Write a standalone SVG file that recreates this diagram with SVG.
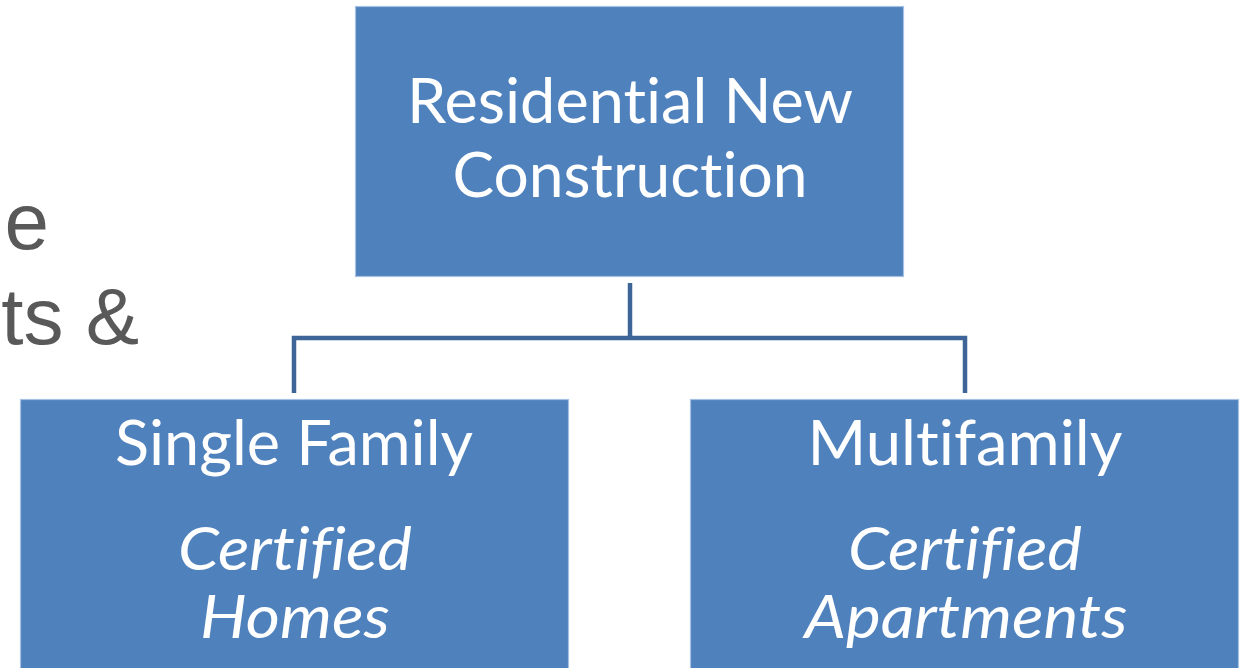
<svg xmlns="http://www.w3.org/2000/svg" width="1248" height="668" viewBox="0 0 1248 668">
<style>
.box{fill:#4F81BD;stroke:#A7C1E4;stroke-width:1.2}
.t{font-family:Lato,"Open Sans","Noto Sans",sans-serif;font-size:61px;fill:#FFFFFF;text-anchor:middle;font-variant-ligatures:none;font-feature-settings:"liga" 0,"clig" 0}
.i{font-style:italic}
.bg{font-family:"Liberation Sans",Arial,sans-serif;font-size:80px;fill:#595959;text-anchor:end}
.c{fill:none;stroke:#3D6597;stroke-width:4.5;stroke-linejoin:miter}
</style>
<rect width="1248" height="668" fill="#FFFFFF"/>
<g id="background-text">
<text class="bg" x="49" y="249">e</text>
<text class="bg" x="139" y="344">ts &amp;</text>
</g>
<g id="connectors">
<path class="c" d="M630,283 V338"/>
<path class="c" d="M294,393 V338 H965 V393"/>
</g>
<g id="node-root">
<rect class="box" x="355.5" y="6.5" width="548" height="270"/>
<text class="t" x="630" y="123" textLength="446" lengthAdjust="spacingAndGlyphs">Residential New</text>
<text class="t" x="630" y="197" textLength="355" lengthAdjust="spacingAndGlyphs">Construction</text>
</g>
<g id="node-single">
<rect class="box" x="20.5" y="399.5" width="548" height="280"/>
<text class="t" x="294" y="465" textLength="358" lengthAdjust="spacingAndGlyphs">Single Family</text>
<text class="t i" x="295" y="570" textLength="234" lengthAdjust="spacingAndGlyphs">Certified</text>
<text class="t i" x="295" y="638" textLength="190" lengthAdjust="spacingAndGlyphs">Homes</text>
</g>
<g id="node-multi">
<rect class="box" x="690.5" y="399.5" width="548" height="280"/>
<text class="t" x="965" y="465" textLength="315" lengthAdjust="spacingAndGlyphs">Multifamily</text>
<text class="t i" x="965" y="570" textLength="234" lengthAdjust="spacingAndGlyphs">Certified</text>
<text class="t i" x="966" y="638" textLength="323" lengthAdjust="spacingAndGlyphs">Apartments</text>
</g>
</svg>
